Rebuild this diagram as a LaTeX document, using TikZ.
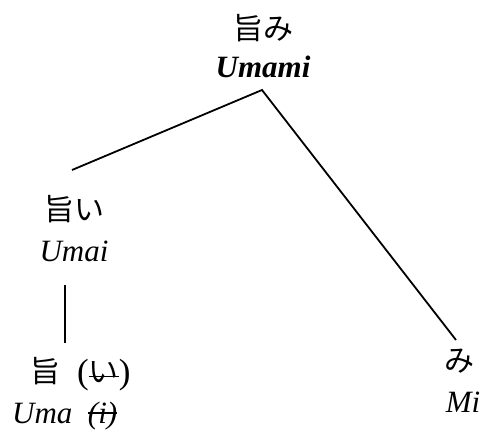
\documentclass[tikz,border=0pt]{standalone}
\usepackage{fontspec}
\setmainfont{Liberation Serif}
\newfontfamily\jp{Noto Sans CJK JP}
\newsavebox\strkbox
\newcommand\strk[2]{\sbox\strkbox{#2}\rlap{\usebox\strkbox}\rule[#1]{\wd\strkbox}{1.3pt}}
\newcommand\bigpar[1]{{\rmfamily\fontsize{35}{36}\selectfont\raisebox{-1pt}{#1}}}
\begin{document}
\begin{tikzpicture}[x=1pt,y=-1pt,
  lab/.style={font=\fontsize{31}{36}\selectfont, inner sep=0pt, anchor=base},
  jlab/.style={font=\fontsize{30}{36}\selectfont\jp, inner sep=0pt, anchor=base},
  conn/.style={line width=1.8pt}]
\useasboundingbox (0,0) rectangle (481,429);
% top
\node[jlab] (topjp) at (263,39) {旨み};
\node[lab] (topen) at (263,77) {\textbf{\textit{Umami}}};
% left middle
\node[jlab] (umaijp) at (74,220) {旨い};
\node[lab] (umaien) at (74,261) {\textit{Umai}};
% bottom left
\node[jlab, anchor=base west] (umajp) at (30,382)
  {旨\hspace{17pt}\bigpar{(}\strk{0.17em}{い}\bigpar{)}};
\node[lab, anchor=base west] (umaen) at (12,423)
  {\textit{Uma\hspace{0.5em}\strk{0.3em}{(i)}}};
% bottom right
\node[jlab] (mijp) at (459,371) {み};
\node[lab] (mien) at (463,412) {\textit{Mi}};
% connector ends
\coordinate (apex) at (262,90);
\coordinate (lend) at (72,170);
\coordinate (rend) at (456,340);
\coordinate (vtop) at (65,285);
\coordinate (vbot) at (65,343);
\draw[conn] (lend) -- (apex) -- (rend);
\draw[conn] (vtop) -- (vbot);
\end{tikzpicture}
\end{document}
